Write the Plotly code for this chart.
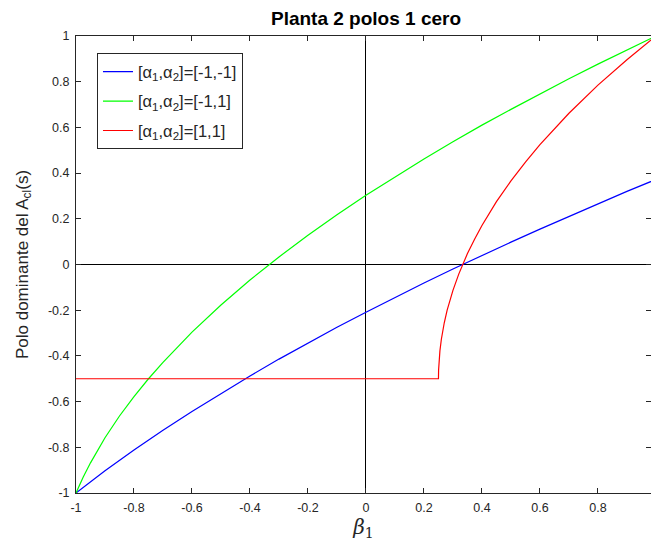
import plotly.graph_objects as go

# beta values and dominant pole values
beta_blue = [-1.0, -0.9, -0.8, -0.7, -0.6, -0.5, -0.4, -0.3, -0.2, -0.1, 0.0,
             0.1, 0.2, 0.3, 0.4, 0.5, 0.6, 0.7, 0.8, 0.9, 1.0]
pole_blue = [-1.0, -0.903, -0.812, -0.725, -0.643, -0.564, -0.488, -0.414, -0.344,
             -0.275, -0.209, -0.144, -0.081, -0.020, 0.040, 0.098, 0.155, 0.211,
             0.266, 0.320, 0.372]

beta_green = [-1.0, -0.99, -0.975, -0.95, -0.925, -0.9, -0.85, -0.8, -0.75, -0.7,
              -0.6, -0.5, -0.4, -0.3, -0.2, -0.1, 0.0, 0.1, 0.2, 0.3, 0.4, 0.5,
              0.6, 0.7, 0.8, 0.9, 1.0]
pole_green = [-1.0, -0.971, -0.930, -0.868, -0.811, -0.758, -0.663, -0.578, -0.500,
              -0.428, -0.296, -0.177, -0.068, 0.033, 0.128, 0.218, 0.303, 0.384,
              0.462, 0.537, 0.610, 0.679, 0.747, 0.813, 0.877, 0.939, 1.0]

beta_red = [-1.0, 0.25, 0.2505, 0.252, 0.255, 0.26, 0.265, 0.27, 0.28, 0.29, 0.3,
            0.32, 0.3333, 0.35, 0.375, 0.4, 0.45, 0.5, 0.55, 0.6, 0.7, 0.8, 0.9, 1.0]
pole_red = [-0.5, -0.5, -0.461, -0.423, -0.378, -0.327, -0.288, -0.255, -0.200,
            -0.154, -0.113, -0.042, 0.0, 0.048, 0.112, 0.171, 0.275, 0.366, 0.448,
            0.525, 0.662, 0.785, 0.896, 1.0]

labels = ["[α<sub>1</sub>,α<sub>2</sub>]=[-1,-1]",
          "[α<sub>1</sub>,α<sub>2</sub>]=[-1,1]",
          "[α<sub>1</sub>,α<sub>2</sub>]=[1,1]"]
colors = ["#0000ff", "#00ff00", "#ff0000"]

xticks = [-1, -0.8, -0.6, -0.4, -0.2, 0, 0.2, 0.4, 0.6, 0.8]
xtick_text = ["-1", "-0.8", "-0.6", "-0.4", "-0.2", "0", "0.2", "0.4", "0.6", "0.8"]
yticks = [-1, -0.8, -0.6, -0.4, -0.2, 0, 0.2, 0.4, 0.6, 0.8, 1]
ytick_text = ["-1", "-0.8", "-0.6", "-0.4", "-0.2", "0", "0.2", "0.4", "0.6", "0.8", "1"]

W, H = 651, 546

fig = go.Figure()
series = [(beta_blue, pole_blue), (beta_green, pole_green), (beta_red, pole_red)]
for i, ((bx, py), lab, col) in enumerate(zip(series, labels, colors)):
    fig.add_trace(go.Scatter(x=bx, y=py, mode="lines", name=lab,
                             legendgroup="g%d" % i,
                             line=dict(color=col, width=1.2)))

axis_common = dict(showgrid=False, zeroline=True, zerolinecolor="#000000",
                   zerolinewidth=1, showline=True, linecolor="#262626",
                   linewidth=1, mirror="ticks", ticks="inside", ticklen=5,
                   tickcolor="#262626",
                   tickfont=dict(size=12.5, color="#262626",
                                 family="Liberation Sans, Arial"))

fig.update_xaxes(range=[-1, 0.983], tickvals=xticks, ticktext=xtick_text,
                 ticklabelstandoff=3,
                 title=dict(text="<i>β</i><sub>1</sub>", standoff=2,
                            font=dict(size=20, color="#262626",
                                      family="DejaVu Serif, serif")),
                 **axis_common)
fig.update_yaxes(range=[-1, 1], tickvals=yticks, ticktext=ytick_text,
                 ticklabelstandoff=3,
                 title=dict(text="Polo dominante del A<sub>cl</sub>(s)", standoff=15,
                            font=dict(size=17, color="#262626",
                                      family="Liberation Sans, Arial")),
                 **axis_common)

fig.update_layout(
    width=W, height=H,
    margin=dict(l=76, r=0, t=36, b=53),
    paper_bgcolor="white", plot_bgcolor="white",
    title=dict(text="<b>Planta 2 polos 1 cero</b>", x=(366 / W), xanchor="center",
               y=1 - 18 / H, yanchor="middle",
               font=dict(size=19, color="#000000", family="Liberation Sans, Arial")),
    legend=dict(x=0.0365, y=0.962, xanchor="left", yanchor="top",
                bgcolor="white", bordercolor="#262626", borderwidth=1,
                tracegroupgap=5, traceorder="grouped",
                font=dict(size=16.5, color="#262626", family="Liberation Sans, Arial")),
    showlegend=True,
)

fig.write_html("out.html",
               config={"displayModeBar": False},
               post_script="document.body.style.margin='0px';"
                           "document.body.style.overflow='hidden';"
                           "document.documentElement.style.overflow='hidden';")
